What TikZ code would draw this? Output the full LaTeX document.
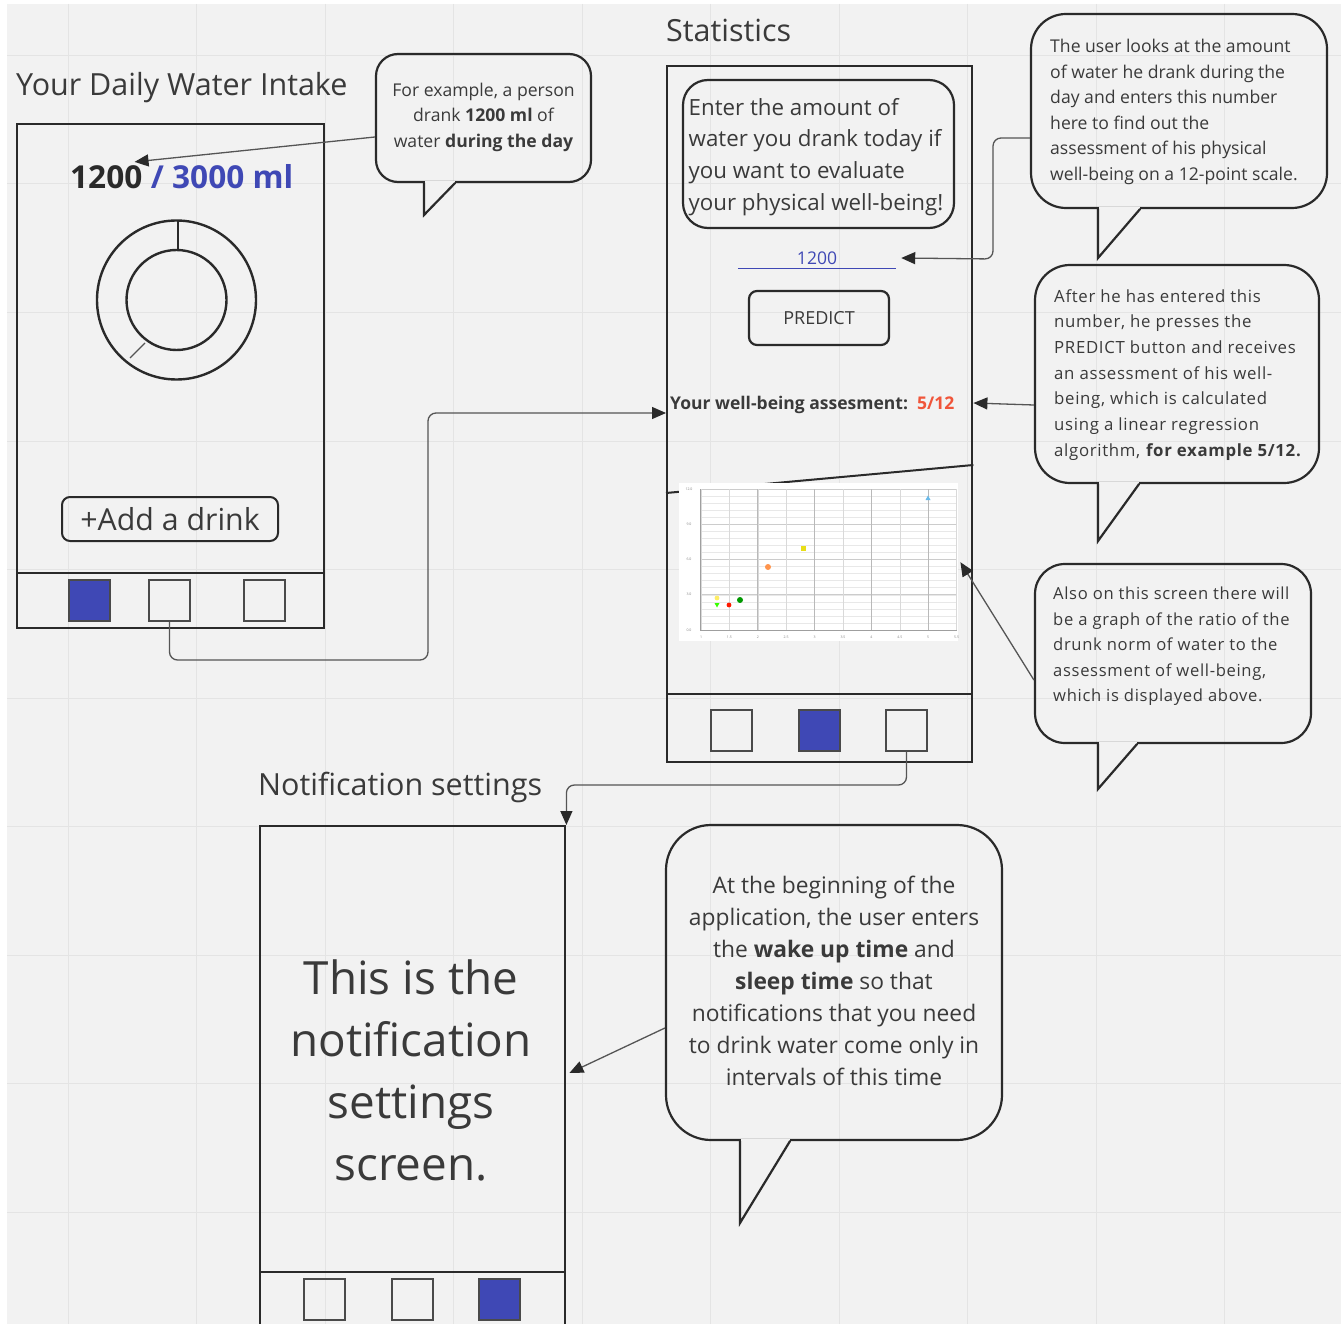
\documentclass[tikz,border=0pt]{standalone}
\usepackage{fontspec}
\setmainfont{Open Sans}
\newfontfamily\wideos[LetterSpace=4]{Open Sans}
\usetikzlibrary{arrows.meta}
\definecolor{bg}{HTML}{F2F2F2}
\definecolor{gridc}{HTML}{E4E4E4}
\definecolor{ink}{HTML}{2A2A2A}
\definecolor{txt}{HTML}{3A3A3A}
\definecolor{navblue}{HTML}{3F48B5}
\definecolor{scorered}{HTML}{F0553A}
\tikzset{
  screen/.style={draw=ink, line width=2.4pt, inner sep=0pt, anchor=north west},
  navbtn/.style={draw=ink!85, line width=2pt, minimum width=41pt, minimum height=41pt, inner sep=0pt},
  navon/.style={navbtn, fill=navblue},
  bubble/.style={draw=ink, line width=2.2pt, inner sep=0pt},
  bubbleline/.style={draw=ink, line width=2.2pt, line cap=round, line join=miter},
  link/.style={draw=ink!80, line width=1.3pt, rounded corners=8pt, -{Triangle[length=14pt,width=12pt,color=ink]}},
  heading/.style={text=txt, font={\fontsize{30.5}{36}\selectfont}, inner sep=0pt, anchor=base west},
  note/.style={text=txt, inner sep=0pt, font={\fontsize{17.6}{25.5}\selectfont}},
  tiny/.style={text=gray, inner sep=0pt, font={\fontsize{3.5}{4}\selectfont}},
}
% tail of a speech bubble: gap in the bottom edge, then two sides meeting at the tip
\newcommand\bubbletail[4]{% #1 node, #2 left x, #3 tip, #4 right x
  \fill[bg] ([yshift=2pt]#1.south -| #2,0) ++(1.3,0) rectangle ([yshift=-2.5pt]#1.south -| #4,0);
  \draw[bubbleline] (#1.south -| #2,0) -- #3 -- (#1.south -| #4,0);
}
\begin{document}
\begin{tikzpicture}[x=1pt,y=-1pt]
\useasboundingbox (0,0) rectangle (1341,1324);
\fill[white] (0,0) rectangle (1341,1324);
\fill[bg] (7,4) rectangle (1341,1324);
% board grid
\foreach \gx in {0,...,9} \draw[gridc, line width=1pt] ({68+128.5*\gx},4) -- ({68+128.5*\gx},1324);
\foreach \gy in {0,...,9} \draw[gridc, line width=1pt] (7,{55.5+128.5*\gy}) -- (1341,{55.5+128.5*\gy});

% ---------------- home screen ----------------
\node[heading] (thome) at (16,96) {Your Daily Water Intake};
\node[screen, minimum width=307pt, minimum height=504pt] (home) at (16,123) {};
\draw[ink, line width=2pt] (home.west |- 0,573) -- (home.east |- 0,573);
\node[navon] (h1) at (89,600.5) {};
\node[navbtn] (h2) at (169.5,600.5) {};
\node[navbtn] (h3) at (264,600.5) {};
\node[inner sep=0pt, anchor=base west, font={\bfseries\fontsize{31.6}{36}\selectfont}, text=ink] (n1200) at (70,189) {1200};
\node[inner sep=0pt, anchor=base west, font={\bfseries\fontsize{31.6}{36}\selectfont}, text=navblue] (ngoal) at (n1200.base east) {\ / 3000 ml};
\draw[ink, line width=2.4pt] (176.5,300) circle[radius=79.5];
\draw[ink, line width=2.4pt] (176.5,300) circle[radius=50];
\draw[ink, line width=1.8pt] (178,221) -- (178,250);
\draw[ink!80, line width=1.4pt] (130,358) -- (145,343);
\node[draw=ink, line width=2pt, rounded corners=8pt, minimum width=216pt, minimum height=44pt, inner sep=0pt, text=txt, font={\fontsize{30.3}{34}\selectfont}] (add) at (170,519) {+Add a drink};

% callout on the counter
\node[bubble, rounded corners=22pt, minimum width=215pt, minimum height=128pt] (b1) at (483.5,118) {};
\bubbletail{b1}{424}{(424,215)}{455}
\node[note, anchor=north, align=center] (t1) at (483.5,82.5) {For example, a person\\drank \textbf{1200 ml} of\\water \textbf{during the day}};

% ---------------- statistics screen ----------------
\node[heading] (tstat) at (666,42) {Statistics};
\node[screen, minimum width=305pt, minimum height=696pt] (stats) at (666,65) {};
\draw[ink, line width=2pt] (stats.west |- 0,694) -- (stats.east |- 0,694);
\node[navbtn] (s1) at (731.5,730) {};
\node[navon] (s2) at (819,730) {};
\node[navbtn] (s3) at (906.5,730) {};
\node[draw=ink, line width=2.2pt, rounded corners=25pt, minimum width=271pt, minimum height=148pt, inner sep=0pt] (ask) at (818.5,154) {};
\node[inner sep=0pt, anchor=north west, align=left, text=txt, font={\fontsize{22.3}{31.7}\selectfont}] (asktext) at (688.5,98) {Enter the amount of\\water you drank today if\\you want to evaluate\\your physical well-being!};
\node[inner sep=0pt, minimum width=158pt, minimum height=20pt, text=navblue, font={\fontsize{17.5}{19}\selectfont}] (inp) at (817,258) {1200};
\draw[navblue, line width=1.2pt] (inp.south west) -- (inp.south east);
\node[draw=ink, line width=2.2pt, rounded corners=8pt, minimum width=140pt, minimum height=54pt, inner sep=0pt, text=txt, font={\fontsize{18}{21}\selectfont}] (pred) at (819,318) {PREDICT};
\node[inner sep=0pt, anchor=base west, text=txt, font={\bfseries\fontsize{17.5}{21}\selectfont}] (wb) at (670,409.5) {Your well-being assesment:\ \ \textcolor{scorered}{5/12}};
\draw[ink, line width=2pt] (stats.west |- 0,493) -- (stats.east |- 0,465);

% chart of water against well-being
\node[fill=white, minimum width=279pt, minimum height=158pt, inner sep=0pt, anchor=north west] (chart) at (679,483) {};
\foreach \k in {1,...,19} \draw[gray!18, line width=0.5pt] (700,{489+\k*7.05}) -- (957,{489+\k*7.05});
\foreach \k in {0,...,4} \draw[gray!40, line width=0.8pt] (700,{489+\k*35.25}) -- (957,{489+\k*35.25});
\foreach \k in {0,...,9} \draw[gray!30, line width=0.6pt] ({701+\k*28.4},489) -- ({701+\k*28.4},630);
\foreach \k in {2,4,6,8} \draw[gray!55, line width=0.8pt] ({701+\k*28.4},489) -- ({701+\k*28.4},630);
\draw[gray!75, line width=0.9pt] (700,489) -- (700,630) -- (957,630);
\foreach \lab [count=\i from 0] in {12.0,9.0,6.0,3.0,0.0} \node[tiny] at (689,{489+\i*35.25}) {\lab};
\foreach \lab [count=\i from 0] in {1,1.5,2,2.5,3,3.5,4,4.5,5,5.5} \node[tiny] at ({701+\i*28.4},637) {\lab};
\fill[yellow!85!orange!60] (717,598) circle[radius=2.4];
\fill[green!70!lime] (714.5,603) -- (719.5,603) -- (717,607.5) -- cycle;
\fill[red!80!orange] (729,605) circle[radius=2.4];
\fill[green!60!black] (740,600) circle[radius=3];
\fill[orange!80!red!70] (768,567) circle[radius=3];
\fill[yellow!90!black] (800.5,545.5) rectangle (805.5,550.5);
\fill[cyan!80!blue!60] (925.5,500) -- (930.5,500) -- (928,495.5) -- cycle;

% callout about entering the number
\node[bubble, rounded corners=35pt, minimum width=296pt, minimum height=194pt] (b2) at (1179,111) {};
\bubbletail{b2}{1098}{(1098,258)}{1140}
\node[note, anchor=north west, align=left] (t2) at (1050,39) {The user looks at the amount\\of water he drank during the\\day and enters this number\\here to find out the\\assessment of his physical\\well-being on a 12-point scale.};

% callout about the prediction
\node[bubble, rounded corners=35pt, minimum width=284pt, minimum height=218pt] (b3) at (1177,374) {};
\bubbletail{b3}{1098}{(1098,541)}{1139}
\node[note, anchor=north west, align=left, font={\wideos\fontsize{16.8}{25.7}\selectfont}] (t3) at (1054,289) {After he has entered this\\number, he presses the\\PREDICT button and receives\\an assessment of his well-\\being, which is calculated\\using a linear regression\\algorithm, \textbf{for example 5/12.}};

% callout about the chart
\node[bubble, rounded corners=30pt, minimum width=276pt, minimum height=179pt] (b4) at (1173,653.5) {};
\bubbletail{b4}{1098}{(1098,789)}{1137}
\node[note, anchor=north west, align=left, font={\wideos\fontsize{16.6}{25.5}\selectfont}] (t4) at (1053,587) {Also on this screen there will\\be a graph of the ratio of the\\drunk norm of water to the\\assessment of well-being,\\which is displayed above.};

% ---------------- notification settings screen ----------------
\node[heading] (tnotif) at (258,795) {Notification settings};
\node[screen, minimum width=305pt, minimum height=515pt] (notif) at (259,825) {};
\draw[ink, line width=2pt] (notif.west |- 0,1272) -- (notif.east |- 0,1272);
\node[navbtn] (m1) at (324,1299) {};
\node[navbtn] (m2) at (412,1299) {};
\node[navon] (m3) at (499,1299) {};
\node[inner sep=0pt, anchor=north, align=center, text=txt, font={\fontsize{45.8}{62}\selectfont}] (ntext) at (411,959) {This is the\\notification\\settings\\screen.};

% callout about wake and sleep times
\node[bubble, rounded corners=45pt, minimum width=336pt, minimum height=315pt] (b5) at (834,982.5) {};
\bubbletail{b5}{740}{(740,1223)}{790}
\node[note, anchor=north, align=center, font={\fontsize{22.8}{32}\selectfont}] (t5) at (834,876) {At the beginning of the\\application, the user enters\\the \textbf{wake up time} and\\\textbf{sleep time} so that\\notifications that you need\\to drink water come only in\\intervals of this time};

% ---------------- connectors ----------------
\draw[link] (b1.west |- 0,137) -- ([xshift=-8pt,yshift=4pt]n1200.north east);
\draw[link] (h2.south) -- (h2.south |- 0,660) -- (428,660) -- (428,413) -- (stats.west |- 0,413);
\draw[link] (b2.west |- 0,138) -- (993,138) -- (993,259) -- ([xshift=5pt]inp.east);
\draw[link, rounded corners=0pt] (b3.west |- 0,405) -- (stats.east |- 0,403);
\draw[link, rounded corners=0pt] (b4.west |- 0,680) -- ([xshift=2pt]chart.east);
\draw[link] (s3.south) -- (s3.south |- 0,785) -- (notif.east |- 0,785) -- (notif.north east);
\draw[link, rounded corners=0pt] (b5.west |- 0,1028) -- ([xshift=3pt]notif.east |- 0,1073);
\end{tikzpicture}
\end{document}
